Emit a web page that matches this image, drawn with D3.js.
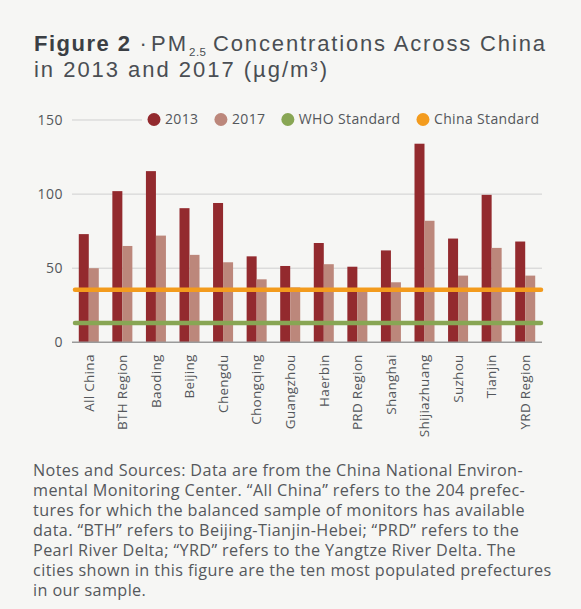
<!DOCTYPE html>
<html>
<head>
<meta charset="utf-8">
<script src="https://cdn.jsdelivr.net/npm/d3@7"></script>
<style>
  html, body { margin: 0; padding: 0; background: #f6f6f4; }
  svg { display: block; }
  text { font-family: "Open Sans", "Noto Sans", sans-serif; }
</style>
</head>
<body>
<div id="chart"></div>
<script>
// ---- data ----
const categories = ["All China", "BTH Region", "Baoding", "Beijing", "Chengdu", "Chongqing", "Guangzhou",
  "Haerbin", "PRD Region", "Shanghai", "Shijiazhuang", "Suzhou", "Tianjin", "YRD Region"];
const values2013 = [73, 102, 115.5, 90.5, 94, 58, 51.5, 67, 51, 62, 134, 70, 99.5, 68];
const values2017 = [50, 65, 72, 59, 54, 42.5, 37, 52.7, 35.5, 40.5, 82, 45, 63.7, 45];
const seriesNames = ["2013", "2017"];
const whoStandard = 13;
const chinaStandard = 35.5;
const yTicks = [0, 50, 100, 150];
const legendLabels = ["2013", "2017", "WHO Standard", "China Standard"];
const notesLines = [
  "Notes and Sources: Data are from the China National Environ-",
  "mental Monitoring Center. \u201CAll China\u201D refers to the 204 prefec-",
  "tures for which the balanced sample of monitors has available",
  "data. \u201CBTH\u201D refers to Beijing-Tianjin-Hebei; \u201CPRD\u201D refers to the",
  "Pearl River Delta; \u201CYRD\u201D refers to the Yangtze River Delta. The",
  "cities shown in this figure are the ten most populated prefectures",
  "in our sample."
];

// ---- style ----
const W = 581, H = 609;
const colors = { "2013": "#932a2e", "2017": "#bc877b", who: "#88a654", china: "#f39b1d" };
const textColor = "#54575b";
const bg = "#f6f6f4";

const svg = d3.select("#chart").append("svg").attr("width", W).attr("height", H);
svg.append("rect").attr("width", W).attr("height", H).attr("fill", bg);

// helper: widen a text by letter-spacing so it spans [xStart, xEnd]
function fitText(sel, xStart, xEnd) {
  sel.attr("x", xStart).attr("letter-spacing", 0);
  const w = sel.node().getComputedTextLength();
  const n = sel.text().length;
  const ls = n > 1 ? Math.max(0, (xEnd - xStart - w) / (n - 1)) : 0;
  sel.attr("letter-spacing", ls);
  return ls;
}

// Title
const titleFont = "'Liberation Sans', Arial, sans-serif";
const title = svg.append("g");
const pieces = [
  { t: "Figure 2", w: 700, fs: 22, y: 51, fill: "#3b3f44", x0: 34, x1: 130 },
  { t: "\u00B7", w: 400, fs: 22, y: 51, fill: "#4a4e53", x0: 139.5, x1: 145 },
  { t: "PM", w: 400, fs: 22, y: 51, fill: "#4a4e53", x0: 151, x1: 186 },
  { t: "2.5", w: 400, fs: 11.5, y: 55.5, fill: "#4a4e53", x0: 189, x1: 206 },
  { t: "Concentrations Across China", w: 400, fs: 22, y: 51, fill: "#4a4e53", x0: 213, x1: 545 },
  { t: "in 2013 and 2017 (\u00B5g/m\u00B3)", w: 400, fs: 22, y: 77, fill: "#4a4e53", x0: 34, x1: 327 }
];
pieces.forEach(p => {
  const n = title.append("text").attr("y", p.y).style("font-family", titleFont)
    .attr("font-size", p.fs).attr("font-weight", p.w).attr("fill", p.fill).text(p.t);
  if (p.t.length > 1) fitText(n, p.x0, p.x1); else n.attr("x", p.x0);
});

// Scales
const x0 = d3.scaleBand().domain(categories).range([72, 542]).paddingInner(0.404).paddingOuter(0.202);
const x1 = d3.scaleBand().domain(seriesNames).range([0, x0.bandwidth()]);
const y = d3.scaleLinear().domain([0, 150]).range([342.3, 120]);

// Gridlines
svg.append("g").selectAll("line").data(yTicks.filter(d => d > 0)).join("line")
  .attr("x1", 72).attr("x2", 542)
  .attr("y1", d => y(d)).attr("y2", d => y(d))
  .attr("stroke", "#cfcfcf").attr("stroke-width", 1);

// Y axis labels
const yAxis = d3.axisLeft(y).tickValues(yTicks).tickSize(0).tickPadding(9);
const yg = svg.append("g").attr("transform", "translate(72,0)").call(yAxis);
yg.select(".domain").remove();
yg.selectAll("text").attr("font-size", 14).attr("fill", textColor).attr("letter-spacing", 0.5);

// Bars
const rows = categories.map((c, i) => ({ c, v: [values2013[i], values2017[i]] }));
const groups = svg.append("g").selectAll("g").data(rows).join("g")
  .attr("transform", d => `translate(${x0(d.c)},0)`);
groups.selectAll("rect").data(d => seriesNames.map((s, j) => ({ s, v: d.v[j] }))).join("rect")
  .attr("x", d => x1(d.s)).attr("width", x1.bandwidth())
  .attr("y", d => y(d.v)).attr("height", d => y(0) - y(d.v))
  .attr("fill", d => colors[d.s]);

// Baseline
svg.append("line").attr("x1", 72).attr("x2", 542).attr("y1", y(0)).attr("y2", y(0))
  .attr("stroke", "#9a9a9a").attr("stroke-width", 1.5);

// Standard lines
[[whoStandard, colors.who], [chinaStandard, colors.china]].forEach(([v, c]) => {
  svg.append("line").attr("x1", 75).attr("x2", 541).attr("y1", y(v)).attr("y2", y(v))
    .attr("stroke", c).attr("stroke-width", 4.5).attr("stroke-linecap", "round");
});

// X axis labels
const xAxis = d3.axisBottom(x0).tickSize(0).tickPadding(0);
const xg = svg.append("g").attr("transform", `translate(0,${y(0)})`).call(xAxis);
xg.select(".domain").remove();
xg.selectAll("text")
  .attr("font-size", 13.5).attr("fill", textColor)
  .attr("letter-spacing", 0.3)
  .attr("text-anchor", "end").attr("dy", "0.35em").attr("y", 0)
  .attr("transform", "translate(0,12) rotate(-90)");

// Legend
const lg = svg.append("g");
lg.append("rect").attr("x", 142).attr("y", 108).attr("width", 405).attr("height", 24).attr("fill", bg);
const legendColors = [colors["2013"], colors["2017"], colors.who, colors.china];
let cursor = 147.5;
legendLabels.forEach((lab, i) => {
  const r = 6.5;
  lg.append("circle").attr("cx", cursor + r).attr("cy", 119.5).attr("r", r).attr("fill", legendColors[i]);
  const t = lg.append("text").attr("x", cursor + 2 * r + 4.5).attr("y", 119.5).attr("dy", "0.35em")
    .attr("font-size", 14).attr("letter-spacing", 0.35).attr("fill", textColor).text(lab);
  cursor = cursor + 2 * r + 4.5 + t.node().getComputedTextLength() + 16;
});

// Notes
const notes = svg.append("text").attr("font-size", 16.2).attr("fill", "#55585c");
const noteSpans = notesLines.map((l, i) =>
  notes.append("tspan").attr("x", 33).attr("y", 476 + i * 20).text(l));
{
  const w = noteSpans[0].node().getComputedTextLength();
  notes.attr("letter-spacing", Math.max(0, (490 - w) / notesLines[0].length));
}
</script>
</body>
</html>
